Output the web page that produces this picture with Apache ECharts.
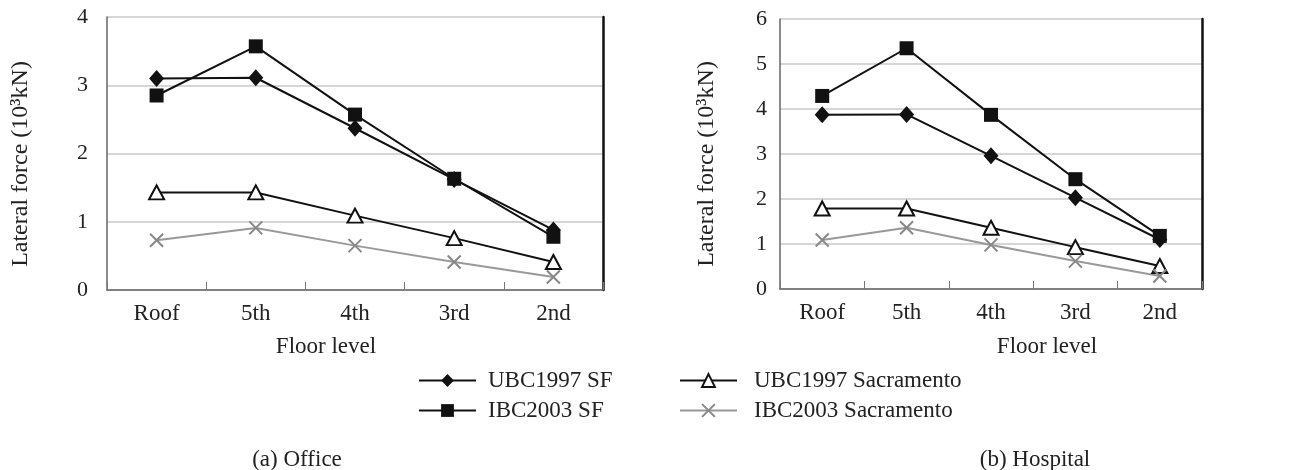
<!DOCTYPE html>
<html>
<head>
<meta charset="utf-8">
<script src="https://cdn.jsdelivr.net/npm/echarts@6/dist/echarts.min.js"></script>
<style>
  html, body { margin: 0; padding: 0; background: #fff; }
  #main { width: 1291px; height: 470px; }
</style>
</head>
<body>
<div id="main"></div>
<script>
// floors, shared by both panels
var floors = ['Roof', '5th', '4th', '3rd', '2nd'];

// (a) Office, 10^3 kN
var officeUbcSf = [3.10, 3.11, 2.37, 1.62, 0.88];
var officeIbcSf = [2.85, 3.57, 2.57, 1.63, 0.78];
var officeUbcSac = [1.43, 1.43, 1.09, 0.76, 0.41];
var officeIbcSac = [0.73, 0.91, 0.65, 0.41, 0.19];

// (b) Hospital, 10^3 kN
var hospUbcSf = [3.87, 3.88, 2.96, 2.03, 1.10];
var hospIbcSf = [4.29, 5.35, 3.87, 2.44, 1.18];
var hospUbcSac = [1.79, 1.79, 1.36, 0.93, 0.51];
var hospIbcSac = [1.09, 1.36, 0.98, 0.62, 0.29];

var officeTicks = [0, 4, 1];   // min, max, interval
var hospTicks = [0, 6, 1];

var FONT = '"Liberation Serif", "Times New Roman", serif';
var crossPath = 'path://M0,0L10,10M10,0L0,10';

function mkSeries(name, data, idx, kind) {
    var s = {
        name: name,
        type: 'line',
        xAxisIndex: idx,
        yAxisIndex: idx * 2,
        data: data,
        symbolSize: 14,
        lineStyle: { color: '#111', width: 2 },
        itemStyle: { color: '#111' },
        animation: false,
        z: 3
    };
    if (kind === 'diamond') {
        s.symbol = 'diamond';
        s.symbolSize = [15, 17];
    } else if (kind === 'square') {
        s.symbol = 'rect';
        s.symbolSize = 14;
    } else if (kind === 'triangle') {
        s.symbol = 'triangle';
        s.symbolSize = [15, 14];
        s.itemStyle = { color: '#fff', borderColor: '#111', borderWidth: 2 };
    } else {
        s.symbol = crossPath;
        s.symbolSize = 13;
        s.lineStyle = { color: '#999', width: 2 };
        s.itemStyle = { color: '#888', borderColor: '#888', borderWidth: 2 };
    }
    return s;
}

function mkY(idx, t, margin) {
    return [{
        type: 'value',
        gridIndex: idx,
        min: t[0], max: t[1], interval: t[2],
        axisLine: { show: true, lineStyle: { color: '#666', width: 1.5 } },
        axisTick: { show: false },
        axisLabel: { color: '#222', fontSize: 22, fontFamily: FONT, margin: margin },
        splitLine: { show: true, lineStyle: { color: '#c8c8c8', width: 1.5 } }
    }, {
        type: 'value',
        gridIndex: idx,
        position: 'right',
        min: t[0], max: t[1], interval: t[2],
        axisLine: { show: true, lineStyle: { color: '#111', width: 2.5 } },
        axisTick: { show: false },
        axisLabel: { show: false },
        splitLine: { show: false }
    }];
}

function mkX(idx) {
    return {
        type: 'category',
        gridIndex: idx,
        data: floors,
        boundaryGap: true,
        axisLine: { show: true, lineStyle: { color: '#666', width: 1.5 } },
        axisTick: { show: true, inside: true, length: 8, lineStyle: { color: '#777' } },
        axisLabel: { color: '#222', fontSize: 23, fontFamily: FONT, margin: 12 }
    };
}

var legendText = { color: '#222', fontSize: 23, fontFamily: FONT };

var myChart = echarts.init(document.getElementById('main'));
myChart.setOption({
    backgroundColor: '#fff',
    textStyle: { fontFamily: FONT },
    grid: [
        { left: 107, right: 688, top: 17, bottom: 180 },
        { left: 780, right: 89, top: 19, bottom: 181 }
    ],
    legend: [{
        orient: 'vertical',
        left: 413,
        top: 364,
        itemWidth: 57,
        itemHeight: 16,
        itemGap: 7,
        textStyle: Object.assign({ padding: [0, 0, 0, 7] }, legendText),
        data: ['UBC1997 SF', 'IBC2003 SF']
    }, {
        orient: 'vertical',
        left: 674,
        top: 364,
        itemWidth: 57,
        itemHeight: 16,
        itemGap: 7,
        textStyle: Object.assign({ padding: [0, 0, 0, 12] }, legendText),
        data: ['UBC1997 Sacramento', 'IBC2003 Sacramento']
    }],
    xAxis: [mkX(0), mkX(1)],
    yAxis: mkY(0, officeTicks, 19).concat(mkY(1, hospTicks, 13)),
    series: [
        mkSeries('UBC1997 SF', officeUbcSf, 0, 'diamond'),
        mkSeries('IBC2003 SF', officeIbcSf, 0, 'square'),
        mkSeries('UBC1997 Sacramento', officeUbcSac, 0, 'triangle'),
        mkSeries('IBC2003 Sacramento', officeIbcSac, 0, 'cross'),
        mkSeries('UBC1997 SF', hospUbcSf, 1, 'diamond'),
        mkSeries('IBC2003 SF', hospIbcSf, 1, 'square'),
        mkSeries('UBC1997 Sacramento', hospUbcSac, 1, 'triangle'),
        mkSeries('IBC2003 Sacramento', hospIbcSac, 1, 'cross')
    ],
    graphic: [
        { type: 'text', x: 21, y: 164, rotation: Math.PI / 2,
          style: { text: 'Lateral force (10³kN)', fill: '#222', font: '24px ' + FONT, textAlign: 'center', textVerticalAlign: 'middle' } },
        { type: 'text', x: 707, y: 164, rotation: Math.PI / 2,
          style: { text: 'Lateral force (10³kN)', fill: '#222', font: '24px ' + FONT, textAlign: 'center', textVerticalAlign: 'middle' } },
        { type: 'text', x: 326, y: 347,
          style: { text: 'Floor level', fill: '#222', font: '23px ' + FONT, textAlign: 'center', textVerticalAlign: 'middle' } },
        { type: 'text', x: 1047, y: 347,
          style: { text: 'Floor level', fill: '#222', font: '23px ' + FONT, textAlign: 'center', textVerticalAlign: 'middle' } },
        { type: 'text', x: 297, y: 460,
          style: { text: '(a) Office', fill: '#222', font: '23px ' + FONT, textAlign: 'center', textVerticalAlign: 'middle' } },
        { type: 'text', x: 1035, y: 460,
          style: { text: '(b) Hospital', fill: '#222', font: '23px ' + FONT, textAlign: 'center', textVerticalAlign: 'middle' } }
    ]
});
</script>
</body>
</html>
